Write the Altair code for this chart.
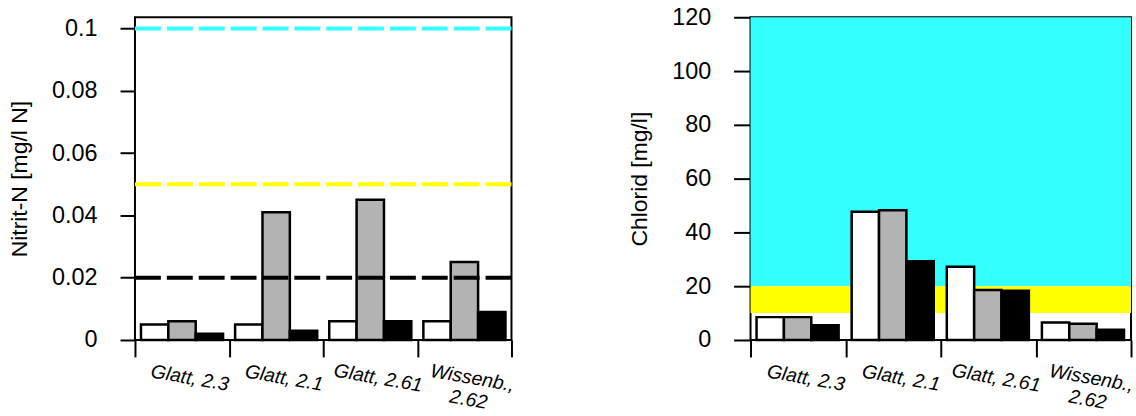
import altair as alt
import pandas as pd

# Sampling sites (x categories) and the three measurement series per site
sites = ["Glatt, 2.3", "Glatt, 2.1", "Glatt, 2.61", "Wissenb.,\n2.62"]
series = ["Messung 1", "Messung 2", "Messung 3"]
series_colors = ["#FFFFFF", "#B3B3B3", "#000000"]

# Nitrit-N [mg/l N] per site, one list per series
nitrit_1 = [0.005, 0.005, 0.006, 0.006]
nitrit_2 = [0.006, 0.041, 0.045, 0.025]
nitrit_3 = [0.002, 0.003, 0.006, 0.009]

# Chlorid [mg/l] per site, one list per series
chlorid_1 = [8.5, 47.7, 27.2, 6.5]
chlorid_2 = [8.5, 48.2, 18.6, 6.0]
chlorid_3 = [5.5, 29.3, 18.3, 3.8]

# Nitrit reference levels (dashed lines)
nitrit_levels = [0.1, 0.05, 0.02]
nitrit_level_colors = ["#33FFFF", "#FFFF00", "#000000"]

# Chlorid quality bands (shaded background)
chlorid_band_lo = [20, 10]
chlorid_band_hi = [120, 20]
chlorid_band_colors = ["#33FFFF", "#FFFF00"]

FONT = "Liberation Sans"


def long_table(values_by_series):
    rows = []
    for name, vals in zip(series, values_by_series):
        for site, v in zip(sites, vals):
            rows.append({"site": site, "series": name, "value": v})
    return pd.DataFrame(rows)


nitrit_df = long_table([nitrit_1, nitrit_2, nitrit_3])
chlorid_df = long_table([chlorid_1, chlorid_2, chlorid_3])
levels_df = pd.DataFrame({"level": nitrit_levels, "color": nitrit_level_colors})
bands_df = pd.DataFrame({"lo": chlorid_band_lo, "hi": chlorid_band_hi,
                         "color": chlorid_band_colors})

x_axis = alt.Axis(
    title=None, tickBand="extent", ticks=True, tickSize=17, tickWidth=2,
    tickColor="black", domain=False, labelAngle=10, labelAlign="center",
    labelBaseline="top", labelPadding=12, labelOffset=9, labelFontSize=19.5,
    labelFontStyle="italic", labelFont=FONT, labelColor="black",
    labelLineHeight=22, labelOverlap=False, labelFlush=False,
    labelExpr="split(datum.label, '\\n')",
)
x_enc = alt.X("site:N", sort=sites, axis=x_axis,
              scale=alt.Scale(paddingInner=0, paddingOuter=0))
xoff_enc = alt.XOffset("series:N", sort=series,
                       scale=alt.Scale(paddingInner=0, paddingOuter=0.22))
fill_enc = alt.Fill("series:N", sort=series, legend=None,
                    scale=alt.Scale(domain=series, range=series_colors))


def y_axis(title, values, tick, fmt):
    return alt.Axis(
        title=title, values=values, format=fmt, grid=False, domain=False,
        tickSize=tick, tickWidth=2, tickColor="black", labelPadding=23,
        labelFontSize=23.5, labelFont=FONT, labelColor="black",
        titleFontSize=23, titleFont=FONT, titleFontWeight="normal",
        titleColor="black", titlePadding=20,
    )


# Left panel: Nitrit-N
nitrit_y = alt.Y("value:Q",
                 scale=alt.Scale(domain=[0, 0.1036], nice=False, zero=True),
                 axis=y_axis("Nitrit-N [mg/l N]",
                             [0, 0.02, 0.04, 0.06, 0.08, 0.1], 15, "~g"))
nitrit_bars = alt.Chart(nitrit_df).mark_bar(
    stroke="black", strokeWidth=2.5
).encode(x=x_enc, xOffset=xoff_enc, y=nitrit_y, fill=fill_enc)
nitrit_rules = alt.Chart(levels_df).mark_rule(
    strokeWidth=4, strokeDash=[26, 6]
).encode(
    y=alt.Y("level:Q"),
    color=alt.Color("color:N", scale=None, legend=None),
)
left = alt.layer(nitrit_bars, nitrit_rules).properties(width=378, height=324)

# Right panel: Chlorid with shaded quality bands
chlorid_y = alt.Y("value:Q",
                  scale=alt.Scale(domain=[0, 120], nice=False, zero=True),
                  axis=y_axis("Chlorid [mg/l]",
                              [0, 20, 40, 60, 80, 100, 120], 17, "d"))
chlorid_bands = alt.Chart(bands_df).mark_rect().encode(
    y=alt.Y("lo:Q"), y2="hi:Q",
    color=alt.Color("color:N", scale=None, legend=None),
)
chlorid_bars = alt.Chart(chlorid_df).mark_bar(
    stroke="black", strokeWidth=2.5
).encode(x=x_enc, xOffset=xoff_enc, y=chlorid_y, fill=fill_enc)
right = alt.layer(chlorid_bands, chlorid_bars).resolve_scale(
    color="independent"
).properties(width=382, height=324)

chart = alt.hconcat(left, right, spacing=111).resolve_scale(
    color="independent", fill="independent"
).configure_view(
    stroke="black", strokeWidth=2
).properties(
    padding={"left": 7.5, "top": 3.5, "right": 0, "bottom": 0},
    background="white",
)

chart.save("out.html", embed_options={"renderer": "svg", "actions": False})
